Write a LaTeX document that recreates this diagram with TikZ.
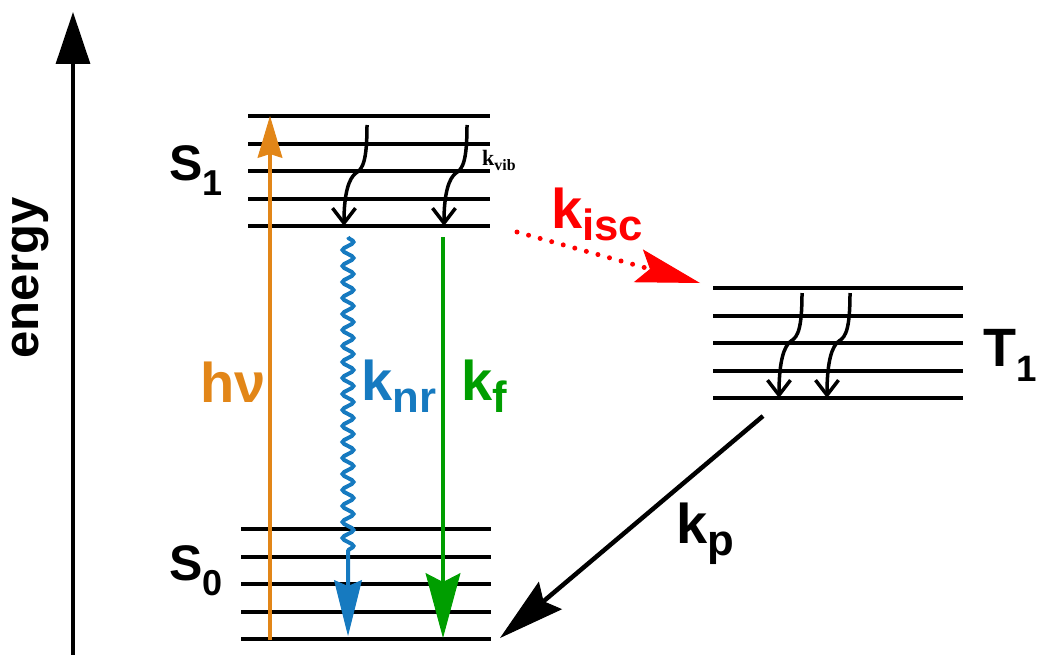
\documentclass[tikz,border=0pt]{standalone}
\usepackage{fontspec}
\setmainfont{Liberation Sans}
\newfontfamily\vibfont{Liberation Serif}
\usepackage{graphicx}
\usetikzlibrary{arrows.meta,decorations.pathmorphing}
\definecolor{hvorange}{RGB}{226,134,24}
\definecolor{nrblue}{RGB}{22,122,192}
\definecolor{fgreen}{RGB}{0,158,0}
\newcommand{\lowidx}[3][.25em]{\raisebox{-#1}{\scalebox{#2}{#3}}}

\begin{document}
\begin{tikzpicture}[
            x=1pt, y=-1pt,
            level/.style={line width=4pt},
            lbl/.style={anchor=base west, inner sep=0pt,
            font=\fontsize{56}{56}\selectfont\bfseries},
            state/.style={lbl, font=\fontsize{50}{50}\selectfont\bfseries},
            axis/.style={line width=3.2pt, -{Triangle[length=52pt,width=34pt]}},
            vib/.style={line width=3.5pt,
            -{Straight Barb[length=15pt,width=23pt,line width=3.5pt]}},
            absorb/.style={hvorange, line width=4pt,
            -{Stealth[length=42pt,width=25pt,inset=4pt,line width=1pt]}},
            nonrad/.style={nrblue, line width=4pt, decorate,
            decoration={snake, amplitude=5.5pt, segment length=16pt, post length=80pt},
            -{Stealth[length=56pt,width=28pt,inset=6pt,line width=1pt]}},
            fluor/.style={fgreen, line width=3.5pt,
            -{Stealth[length=65pt,width=35pt,inset=9pt,line width=1pt]}},
            isc/.style={red, line width=5pt, line cap=round,
            dash pattern=on 0pt off 12pt,
            -{Stealth[length=64pt,width=34pt,inset=12pt,line width=1pt]}},
            phos/.style={line width=4.5pt,
            -{Stealth[length=66pt,width=36pt,inset=9pt,line width=1pt]}}
        ]
\useasboundingbox (0,0) rectangle (1040,655);
% energy axis
            \coordinate (ax0) at (73,655);
            \coordinate (ax1) at (73,12);
            \draw[axis] (ax0) -- (ax1);
            \node[rotate=90, inner sep=0pt, font=\fontsize{49}{49}\selectfont\bfseries]
                (energy) at (30,278) {energy};
% vibrational levels of S1, S0 and T1
            \foreach \xa/\xb/\ytop in {248/490/116, 241/491/529, 713/963/288}
              \foreach \k in {0,...,4}
                \draw[level] (\xa,{\ytop+round(27.5*\k)}) -- (\xb,{\ytop+round(27.5*\k)});
            \node[state] (s1) at (169,180) {S\lowidx[.3em]{.72}{1}};
            \node[state] (s0) at (169,580) {S\lowidx[.3em]{.72}{0}};
            \node[state, font=\fontsize{54}{54}\selectfont\bfseries]
                (t1) at (983,366) {T\lowidx[.28em]{.68}{1}};
% relaxation within a state
            \foreach \x/\y/\d in {367/125/101, 467/125/101, 802/293/105, 850/293/105}
              \draw[vib, shift={(\x,\y)}] (0,0) .. controls (0,35) and (-4,44) .. (-11,48)
                .. controls (-18,53) and (-23,68) .. (-23,\d);
            \node[inner sep=0pt, anchor=base west, font=\fontsize{22}{22}\selectfont\vibfont\bfseries]
                (kvib) at (482,166) {k\lowidx[.2em]{.72}{vib}};
% absorption and decay S1 -> S0
            \coordinate (hv0) at (270,640);
            \coordinate (hv1) at (270,116);
            \coordinate (nr0) at (348,237);
            \coordinate (nr1) at (348,636);
            \coordinate (f0)  at (443,237);
            \coordinate (f1)  at (443,638);
            \draw[absorb] (hv0) -- (hv1);
            \draw[nonrad] (nr0) -- (nr1);
            \draw[fluor]  (f0) -- (f1);
            \node[lbl, hvorange] (hv) at (200,402) {hν};
            \node[lbl, nrblue]   (knr) at (361,400) {k\lowidx[.22em]{.78}{nr}};
            \node[lbl, fgreen]   (kf) at (461,400) {k\lowidx[.22em]{.78}{f}};
% intersystem crossing S1 -> T1
            \coordinate (isc0) at (517,232);
            \coordinate (isc1) at (700,283);
            \draw[isc] (isc0) -- (isc1);
            \node[lbl, red] (kisc) at (551,228) {k\lowidx[.22em]{.78}{isc}};
% phosphorescence T1 -> S0
            \coordinate (p0) at (763,416);
            \coordinate (p1) at (500,638);
            \draw[phos] (p0) -- (p1);
            \node[lbl] (kp) at (676,543) {k\lowidx[.22em]{.78}{p}};
        \end{tikzpicture}
\end{document}
